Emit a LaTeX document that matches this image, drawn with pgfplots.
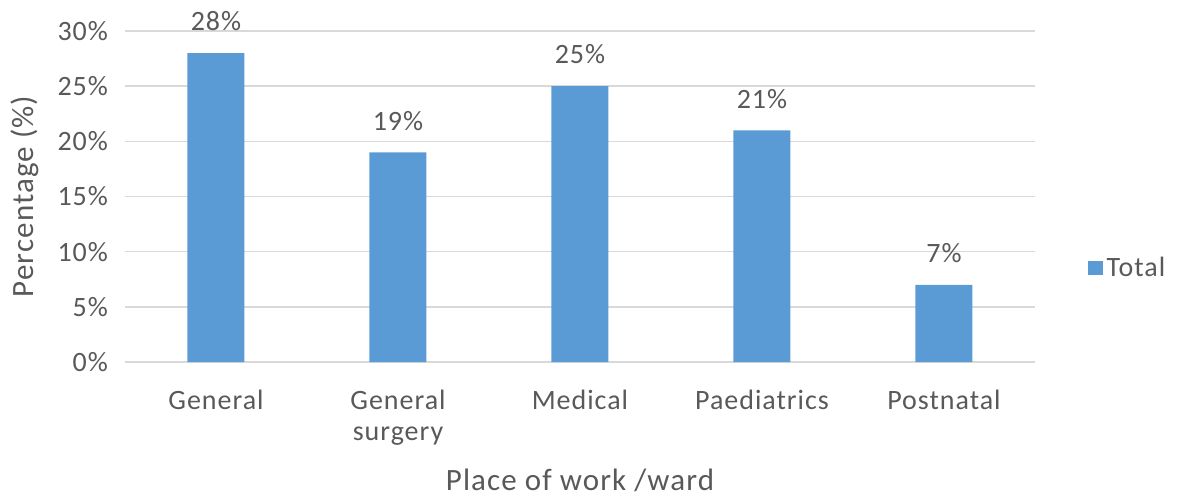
\documentclass[border=0pt]{standalone}
\usepackage{pgfplots}
\pgfplotsset{compat=1.18}
\usepackage{fontspec}
\setmainfont{Carlito}[LetterSpace=3.5]
\definecolor{barblue}{HTML}{5B9BD5}
\definecolor{txtgray}{HTML}{595959}
\definecolor{gridgray}{HTML}{D9D9D9}
\begin{document}
\begin{tikzpicture}
\useasboundingbox (-62.5pt,-66.5pt) rectangle (526.5pt,181pt);
\begin{axis}[
  at={(0,0)}, anchor=south west,
  scale only axis,
  width=455pt, height=165.5pt,
  xmin=-0.5, xmax=4.5,
  ymin=0, ymax=30,
  ytick={0,5,10,15,20,25,30},
  yticklabels={0\%,5\%,10\%,15\%,20\%,25\%,30\%},
  xtick={0,1,2,3,4},
  xticklabels={General,{General\\surgery},Medical,Paediatrics,Postnatal},
  x tick label style={align=center, anchor=north, yshift=-10.5pt, font=\fontsize{14}{15.5}\selectfont, text=txtgray},
  y tick label style={xshift=-5pt, font=\fontsize{14}{15.5}\selectfont, text=txtgray},
  major tick length=0pt,
  ymajorgrids,
  grid style={gridgray, line width=0.8pt},
  axis x line*=bottom,
  axis y line*=left,
  y axis line style={draw=none},
  x axis line style={gridgray, line width=0.8pt},
  xlabel={Place of work /ward},
  ylabel={Percentage (\%)},
  xlabel style={font=\fontsize{15.5}{18}\selectfont, text=txtgray, at={(0.5,0)}, anchor=center, yshift=-59pt},
  ylabel style={font=\fontsize{15.5}{18}\selectfont, text=txtgray, at={(0,0.5)}, anchor=center, rotate=0, yshift=50pt},
  ybar,
  bar width=28.5pt,
  nodes near coords={\pgfmathprintnumber[assume math mode=true]{\pgfplotspointmeta}\%},
  nodes near coords style={font=\fontsize{14}{15.5}\selectfont, text=txtgray, anchor=south, yshift=7.5pt},
  legend style={at={(1.058,0.284)}, anchor=west, draw=none, fill=none, font=\fontsize{14}{15.5}\selectfont, text=txtgray, inner sep=0pt},
  legend image code/.code={\fill[#1] (0pt,-3.6pt) rectangle (7.2pt,3.6pt);},
  clip=false,
]
\addplot[fill=barblue, draw=none] coordinates {(0,28) (1,19) (2,25) (3,21) (4,7)};
\addlegendentry{Total}
\end{axis}
\end{tikzpicture}
\end{document}
